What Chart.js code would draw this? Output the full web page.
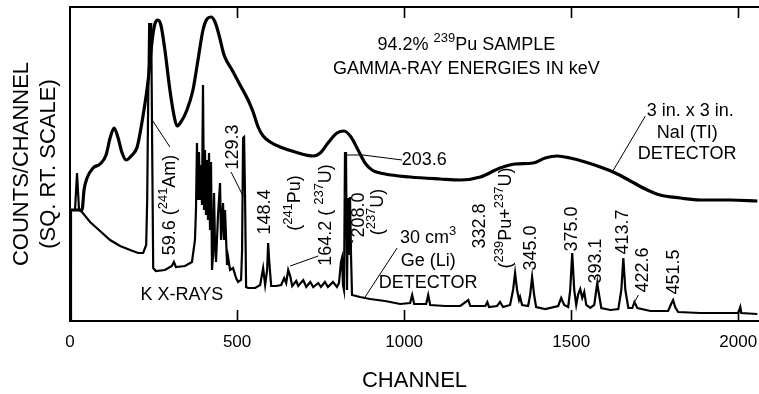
<!DOCTYPE html>
<html><head><meta charset="utf-8">
<script src="https://cdn.jsdelivr.net/npm/chart.js@4/dist/chart.umd.min.js"></script>
<style>html,body{margin:0;padding:0;background:#fff}#wrap{width:759px;height:394px}</style>
</head><body><div id="wrap"><canvas id="c" width="759" height="394"></canvas></div>
<script>
// ---- data (channel, square-root counts in arbitrary units) ----
const naiChannels = [3,36,42,51,69,90,108,120,132,144,156,168,183,201,219,234,246,254,263,272,284,299,311,320,332,350,368,383,398,410,422,434,446,461,485,509,533,548,563,578,599,629,674,728,749,772,799,820,841,862,883,904,943,1018,1108,1168,1228,1287,1332,1386,1422,1458,1497,1542,1587,1632,1677,1722,1766,1826,1886,1976,2057];
const naiCounts   = [111,111,131,143,153,157,166,183,193,183,168,161,165,174,206,241,281,297,301,296,271,231,206,195,199,211,231,261,291,302,304,299,286,266,251,236,221,209,194,185,179,174,169,165,168,178,188,190,184,171,158,151,147,144,142,141,144,153,157,158,163,165,163,159,154,148,140,132,126,123,121,121,120];

const geChannels = [3,3,15,21,27,36,60,90,120,150,180,204,219,228,231,234,237,240,243,246,249,257,284,305,311,317,344,365,374,377,380,383,386,389,392,395,398,401,404,407,410,413,416,419,422,425,428,431,434,437,443,449,452,458,461,464,470,473,479,488,497,503,512,515,518,521,524,527,533,554,569,578,584,590,593,596,602,617,632,641,647,653,659,665,677,683,698,707,719,728,743,751,763,772,787,799,805,811,814,817,820,823,826,829,832,835,838,841,844,868,898,943,988,1018,1024,1030,1066,1072,1078,1123,1168,1192,1198,1243,1249,1254,1278,1287,1296,1317,1326,1332,1338,1344,1347,1353,1371,1377,1383,1389,1395,1422,1461,1470,1479,1491,1497,1503,1509,1515,1521,1527,1533,1539,1545,1557,1569,1575,1578,1581,1590,1617,1641,1650,1656,1662,1671,1683,1689,1698,1737,1790,1799,1805,1811,1820,1886,1946,2000,2006,2009,2057];
const geCounts   = [0,111,111,148,111,109,99,90,81,75,71,68,68,76,121,221,298,266,298,171,53,50,51,55,59,54,55,59,81,111,178,121,169,121,156,116,236,111,171,106,161,101,168,91,159,51,66,128,76,59,106,138,81,118,81,111,56,64,51,53,43,39,41,71,183,184,121,34,33,33,36,53,36,51,78,61,35,35,36,43,38,51,45,35,40,35,41,34,39,34,38,34,39,34,39,34,38,59,63,36,31,168,168,31,123,66,124,66,26,24,22,20,17,18,26,17,17,26,16,15,15,21,15,15,19,14,15,19,14,16,31,48,31,21,24,16,15,26,44,26,14,12,15,23,16,14,31,68,31,16,27,32,23,29,16,13,16,31,38,31,13,11,12,31,63,31,13,13,19,13,10,10,17,21,14,9,8,8,8,14,8,7];

const xTickValues = [0, 500, 1000, 1500, 2000];
const xTitle = 'CHANNEL';
const yTitle = ['COUNTS/CHANNEL', '(SQ. RT. SCALE)'];

// text notes: channel, value, rotation, text parts ([text, isSuperscript])
const notes = [
  {c:1186, v:276, rot:0,   parts:[['94.2% ',0],['239',1],['Pu SAMPLE',0]]},
  {c:1186, v:252, rot:0,   parts:[['GAMMA-RAY ENERGIES IN keV',0]]},
  {c:1856, v:210, rot:0,   parts:[['3 in. x 3 in.',0]]},
  {c:1847, v:188, rot:0,   parts:[['NaI (TI)',0]]},
  {c:1847, v:167, rot:0,   parts:[['DETECTOR',0]]},
  {c:1060, v:161, rot:0,   parts:[['203.6',0]]},
  {c:299,  v:116, rot:-90, parts:[['59.6 (',0],['241',1],['Am)',0]]},
  {c:335,  v:26,  rot:0,   parts:[['K X-RAYS',0]]},
  {c:488,  v:174, rot:-90, parts:[['129.3',0]]},
  {c:584,  v:109, rot:-90, parts:[['148.4',0]]},
  {c:674,  v:118, rot:-90, parts:[['(',0],['241',1],['Pu)',0]]},
  {c:766,  v:106, rot:-90, parts:[['164.2 ( ',0],['237',1],['U)',0]]},
  {c:865,  v:106, rot:-90, parts:[['208.0',0]]},
  {c:922,  v:109, rot:-90, parts:[['(',0],['237',1],['U)',0]]},
  {c:1072, v:83,  rot:0,   parts:[['30 cm',0],['3',1]]},
  {c:1072, v:60,  rot:0,   parts:[['Ge (Li)',0]]},
  {c:1072, v:38,  rot:0,   parts:[['DETECTOR',0]]},
  {c:1228, v:95,  rot:-90, parts:[['332.8',0]]},
  {c:1305, v:103, rot:-90, parts:[['(',0],['239',1],['Pu+',0],['237',1],['U)',0]]},
  {c:1380, v:73,  rot:-90, parts:[['345.0',0]]},
  {c:1503, v:92,  rot:-90, parts:[['375.0',0]]},
  {c:1575, v:60,  rot:-90, parts:[['393.1',0]]},
  {c:1656, v:89,  rot:-90, parts:[['413.7',0]]},
  {c:1716, v:51,  rot:-90, parts:[['422.6',0]]},
  {c:1808, v:49,  rot:-90, parts:[['451.5',0]]}
];
const leaders = [
  [[1722,205],[1623,149]],
  [[823,166],[877,166],[994,161]],
  [[299,174],[246,201]],
  [[482,149],[518,125]],
  [[743,65],[659,55]],
  [[847,81],[835,71]],
  [[979,73],[883,24]],
  [[1701,26],[1686,17]]
];

const FAM = '"Liberation Sans", Arial, Helvetica, sans-serif';
const nai = naiChannels.map((c,i)=>({x:c, y:naiCounts[i]}));
const ge = geChannels.map((c,i)=>({x:c, y:geCounts[i]}));

function drawRich(ctx, parts, cx, cy, rot, size){
  ctx.save();
  ctx.translate(cx, cy);
  ctx.rotate(rot*Math.PI/180);
  const sub = Math.round(size*0.7);
  let w = 0;
  const ws = parts.map(([t,s])=>{ ctx.font = (s?sub:size)+'px '+FAM; const m = ctx.measureText(t).width; w += m; return m; });
  let xx = -w/2;
  ctx.textBaseline = 'middle'; ctx.textAlign = 'left'; ctx.fillStyle = '#000';
  parts.forEach(([t,s],i)=>{ ctx.font = (s?sub:size)+'px '+FAM; ctx.fillText(t, xx, s ? -size*0.38 : 0); xx += ws[i]; });
  ctx.restore();
}

const decor = {
  id: 'decor',
  afterDatasetsDraw(chart){
    const {ctx, chartArea:a, scales:{x, y}} = chart;
    ctx.save();
    ctx.strokeStyle = '#000';
    ctx.lineWidth = 2;
    ctx.beginPath(); ctx.moveTo(a.left, a.top); ctx.lineTo(a.right, a.top); ctx.stroke();
    ctx.lineWidth = 1.6;
    xTickValues.forEach(v=>{
      if (v === 0) return;
      const px = Math.round(x.getPixelForValue(v)) + 0.5;
      ctx.beginPath();
      ctx.moveTo(px, a.bottom); ctx.lineTo(px, a.bottom - 11);
      ctx.moveTo(px, a.top); ctx.lineTo(px, a.top + 11);
      ctx.stroke();
    });
    ctx.lineWidth = 1;
    leaders.forEach(pts=>{
      ctx.beginPath();
      pts.forEach(([c,v],i)=>{ const px = x.getPixelForValue(c), py = y.getPixelForValue(v); i ? ctx.lineTo(px,py) : ctx.moveTo(px,py); });
      ctx.stroke();
    });
    notes.forEach(n=>drawRich(ctx, n.parts, x.getPixelForValue(n.c), y.getPixelForValue(n.v), n.rot, 18));
    ctx.restore();
  }
};

new Chart(document.getElementById('c').getContext('2d'), {
  type: 'line',
  data: { datasets: [
    {label:'3 in. x 3 in. NaI (TI) detector', data:nai, borderColor:'#000', borderWidth:3.2, pointRadius:0, cubicInterpolationMode:'monotone', fill:false},
    {label:'30 cm3 Ge (Li) detector', data:ge, borderColor:'#000', borderWidth:2.2, pointRadius:0, tension:0, fill:false, borderJoinStyle:'miter'}
  ]},
  options: {
    animation:false, responsive:false, devicePixelRatio:1,
    layout:{padding:{left:0, right:0, top:7, bottom:0}},
    plugins:{legend:{display:false}, tooltip:{enabled:false}},
    scales:{
      x:{type:'linear', min:0, max:2062, position:'bottom',
        grid:{display:false, drawTicks:false},
        border:{display:true, color:'#000', width:2},
        afterBuildTicks: s => { s.ticks = xTickValues.map(v=>({value:v})); },
        afterFit: s => { s.height = 73; s.paddingLeft = 0; s.paddingRight = 0; },
        ticks:{autoSkip:false, maxRotation:0, minRotation:0, padding:11, color:'#000', font:{family:FAM, size:17}, callback:v=>String(v)},
        title:{display:true, text:xTitle, color:'#000', font:{family:FAM, size:22}, padding:{top:0, bottom:0}}
      },
      y:{type:'linear', min:0, max:314,
        grid:{display:false, drawTicks:false},
        border:{display:true, color:'#000', width:2},
        afterFit: s => { s.width = 70; },
        ticks:{display:false},
        title:{display:true, text:yTitle, color:'#000', font:{family:FAM, size:22, lineHeight:1.227}, padding:{top:8.5, bottom:7.5}}
      }
    }
  },
  plugins:[decor]
});
</script></body></html>
